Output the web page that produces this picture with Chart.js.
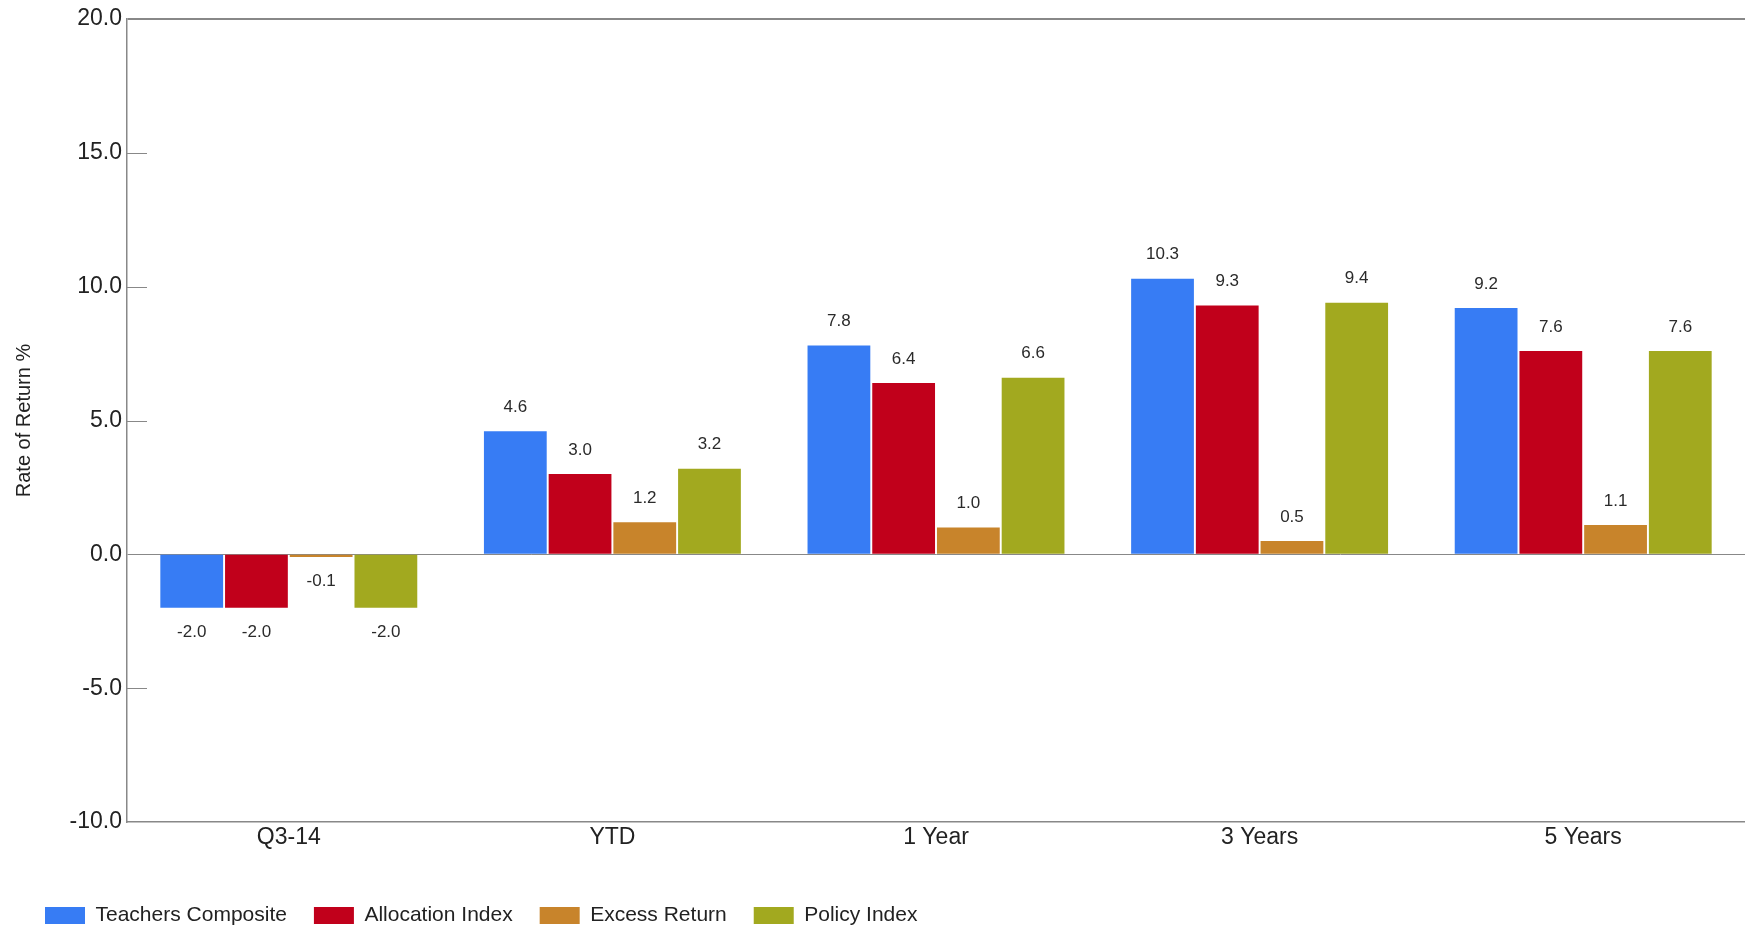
<!DOCTYPE html>
<html>
<head>
<meta charset="utf-8">
<title>Rate of Return</title>
<script src="https://cdn.jsdelivr.net/npm/chart.js@4/dist/chart.umd.min.js"></script>
<style>
  html, body { margin: 0; padding: 0; background: #fff; }
  #wrap { width: 1745px; height: 928px; }
</style>
</head>
<body>
<div id="wrap"><canvas id="returnsChart" width="1745" height="928"></canvas></div>
<script>
// Periods and returns (%)
const periods = ['Q3-14', 'YTD', '1 Year', '3 Years', '5 Years'];
const teachersComposite = [-2.0, 4.6, 7.8, 10.3, 9.2];
const allocationIndex = [-2.0, 3.0, 6.4, 9.3, 7.6];
const excessReturn = [-0.1, 1.2, 1.0, 0.5, 1.1];
const policyIndex = [-2.0, 3.2, 6.6, 9.4, 7.6];
const yTicks = [-10, -5, 0, 5, 10, 15, 20];

const fontFamily = '"Liberation Sans", Arial, sans-serif';

// value labels above / below each bar
const valueLabels = {
    id: 'valueLabels',
    afterDatasetsDraw(chart) {
        const ctx = chart.ctx;
        ctx.save();
        ctx.font = '17px ' + fontFamily;
        ctx.fillStyle = '#2a2a2a';
        ctx.textAlign = 'center';
        ctx.textBaseline = 'middle';
        chart.data.datasets.forEach((ds, i) => {
            chart.getDatasetMeta(i).data.forEach((bar, j) => {
                const v = ds.data[j];
                const y = v >= 0 ? bar.y - 24 : bar.y + 24;
                ctx.fillText(v.toFixed(1), bar.x, y);
            });
        });
        ctx.restore();
    }
};

// short tick marks drawn inside the plot from the left axis
const innerTicks = {
    id: 'innerTicks',
    afterDraw(chart) {
        const ctx = chart.ctx;
        const y = chart.scales.y;
        const left = chart.chartArea.left;
        ctx.save();
        ctx.strokeStyle = '#888';
        ctx.lineWidth = 1;
        yTicks.forEach(t => {
            if (t === 20 || t === -10 || t === 0) return;
            const py = Math.round(y.getPixelForValue(t)) + 0.5;
            ctx.beginPath();
            ctx.moveTo(left, py);
            ctx.lineTo(left + 20, py);
            ctx.stroke();
        });
        ctx.restore();
    }
};

const ctx = document.getElementById('returnsChart').getContext('2d');
const returnsChart = new Chart(ctx, {
    type: 'bar',
    data: {
        labels: periods,
        datasets: [
            { label: 'Teachers Composite', data: teachersComposite, backgroundColor: '#377cf4' },
            { label: 'Allocation Index', data: allocationIndex, backgroundColor: '#c1001b' },
            { label: 'Excess Return', data: excessReturn, backgroundColor: '#c8842b' },
            { label: 'Policy Index', data: policyIndex, backgroundColor: '#a2a91f' }
        ]
    },
    options: {
        responsive: false,
        animation: false,
        layout: { padding: { top: 19, right: 0, left: 18, bottom: -8 } },
        datasets: {
            bar: {
                categoryPercentage: 0.8,
                barPercentage: 0.97,
                borderWidth: 0
            }
        },
        plugins: {
            tooltip: { enabled: false },
            legend: {
                position: 'bottom',
                align: 'start',
                labels: {
                    boxWidth: 40,
                    boxHeight: 17,
                    padding: 27,
                    color: '#222',
                    font: { family: fontFamily, size: 21 }
                }
            }
        },
        scales: {
            x: {
                grid: { display: false, drawTicks: false },
                border: { display: true, color: '#888', width: 1.5 },
                ticks: { color: '#222', padding: 2, font: { family: fontFamily, size: 23 } },
                afterFit(scale) { scale.height = 56; }
            },
            y: {
                min: -10,
                max: 20,
                afterBuildTicks(scale) { scale.ticks = yTicks.map(v => ({ value: v })); },
                grid: {
                    drawTicks: false,
                    color: c => (c.tick && (c.tick.value === 0 || c.tick.value === 20)) ? '#888' : 'rgba(0,0,0,0)',
                    lineWidth: c => (c.tick && c.tick.value === 20) ? 2 : 1
                },
                border: { display: true, color: '#888', width: 1.5 },
                ticks: {
                    color: '#222',
                    padding: 5,
                    font: { family: fontFamily, size: 23 },
                    callback: v => v.toFixed(1)
                },
                title: {
                    display: true,
                    text: 'Rate of Return %',
                    color: '#222',
                    font: { family: fontFamily, size: 20, lineHeight: 1 },
                    padding: { top: -4, bottom: 0 }
                },
                afterFit(scale) { scale.width = 109; }
            }
        }
    },
    plugins: [valueLabels, innerTicks]
});
</script>
</body>
</html>
